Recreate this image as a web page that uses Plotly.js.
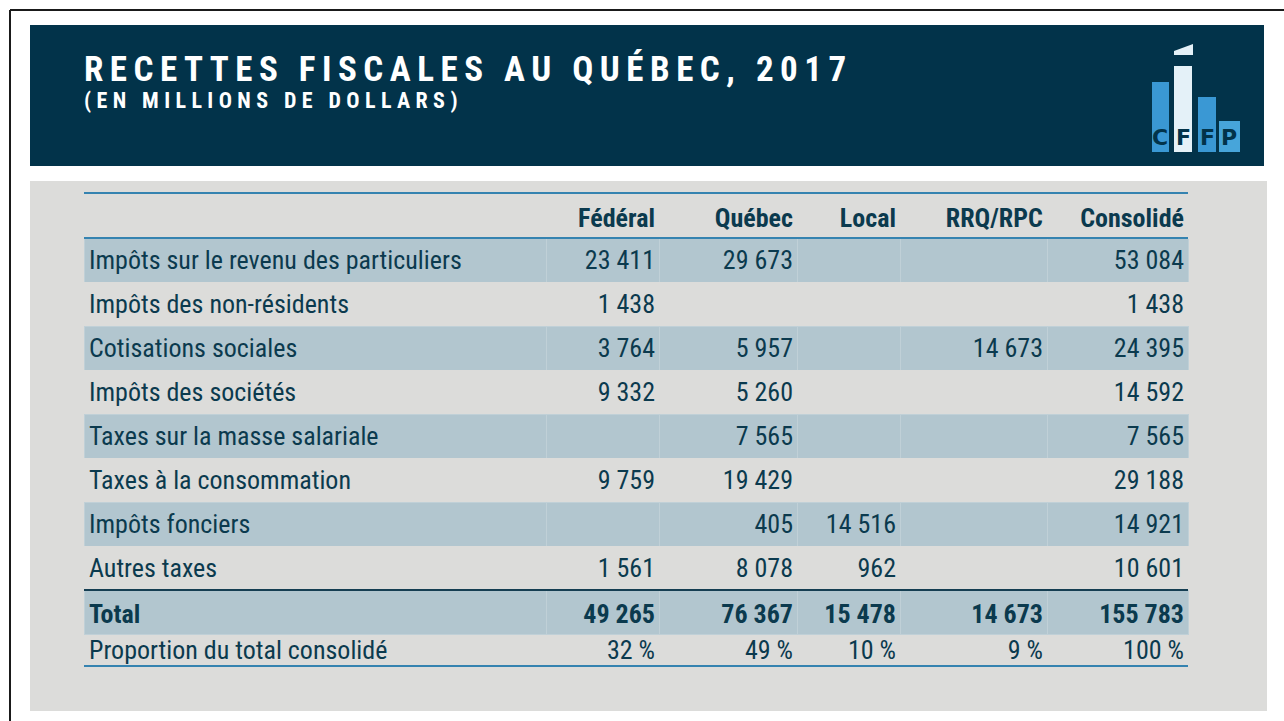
<!DOCTYPE html>
<html>
<head>
<meta charset="utf-8">
<script src="https://cdn.plot.ly/plotly-3.0.1.min.js"></script>
<style>
  html, body { margin: 0; padding: 0; background: #ffffff; }
  #chart { width: 1284px; height: 721px; }
  g.annotation[data-index="0"] text { letter-spacing: 6.5px; }
  g.annotation[data-index="1"] text { letter-spacing: 5.4px; }
</style>
</head>
<body>
<div id="chart"></div>
<script>
// ---------- DATA ----------
const titleText = "RECETTES FISCALES AU QUÉBEC, 2017";
const subtitleText = "(EN MILLIONS DE DOLLARS)";
const columnLabels = ["", "Fédéral", "Québec", "Local", "RRQ/RPC", "Consolidé"];
const categories = [
  "Impôts sur le revenu des particuliers",
  "Impôts des non-résidents",
  "Cotisations sociales",
  "Impôts des sociétés",
  "Taxes sur la masse salariale",
  "Taxes à la consommation",
  "Impôts fonciers",
  "Autres taxes"
];
const federal   = [23411, 1438, 3764, 9332, null, 9759, null, 1561];
const quebec    = [29673, null, 5957, 5260, 7565, 19429, 405, 8078];
const local     = [null, null, null, null, null, null, 14516, 962];
const rrqRpc    = [null, null, 14673, null, null, null, null, null];
const consolide = [53084, 1438, 24395, 14592, 7565, 29188, 14921, 10601];
const totalLabel = "Total";
const totals = [49265, 76367, 15478, 14673, 155783];
const shareLabel = "Proportion du total consolidé";
const shares = [32, 49, 10, 9, 100];

// ---------- STYLE ----------
const W = 1284, H = 721;
const navy = "#02334a";
const textNavy = "#0b3a4e";
const panelGrey = "#dcdcda";
const rowBlue = "#b2c6cf";
const rowBlueLine = "#c0d0d7";
const lineBlue = "#3583b0";
const lineDark = "#153e52";
const logoBlue = "#3a98d4";
const logoLight = "#e4f1f8";
const CLEAR = "rgba(0,0,0,0)";
const FONT = "'Roboto Condensed', 'Liberation Sans Narrow', 'Arial Narrow', 'DejaVu Sans Condensed', 'Liberation Sans', sans-serif";
const FS = 26;

// fill grid (cell edges) and text grid (shifted for cell padding)
const fillLeft = 84, fillRight = 1188, tableTop = 193;
const fillCols = [462, 113, 138, 103, 147, 141];
const textLeft = 81, textRight = 1192;
const textCols = [469, 113, 138, 103, 147, 141];
const headerH = 45, rowH = 44;
const textHeaderTop = 195, textHeaderH = 45;
const totalTextTop = 591, totalH = 42;
const shareTextTop = 631, shareH = 33;
const ruleBottom = 666;

const px = x => x / W;
const py = y => 1 - y / H;

function fmt(v) {
  if (v === null || v === undefined) return "";
  return String(v).replace(/\B(?=(\d{3})+(?!\d))/g, " ");
}

// build columns
const numCols = [federal, quebec, local, rrqRpc, consolide];
const nRows = categories.length + 1; // body rows + total row band
const bodyCols = [categories].concat(numCols.map(col => col.map(fmt)));
const rowFill = [], rowLine = [];
for (let i = 0; i < nRows; i++) {
  const blue = (i % 2 === 0);
  rowFill.push(blue ? rowBlue : panelGrey);
  rowLine.push(blue ? rowBlueLine : panelGrey);
}
const bandCols = columnLabels.map(() => rowFill.map(() => ""));
const aligns = ["left", "right", "right", "right", "right", "right"];
const mainBottom = tableTop + headerH + nRows * rowH;

// row bands of the table
const fillTable = {
  type: "table",
  domain: { x: [px(fillLeft), px(fillRight)], y: [py(mainBottom + 4), py(tableTop)] },
  columnwidth: fillCols,
  header: {
    values: columnLabels.map(() => ""),
    height: headerH,
    fill: { color: panelGrey },
    line: { color: panelGrey, width: 1 },
    font: { family: FONT, size: FS, color: textNavy }
  },
  cells: {
    values: bandCols,
    height: rowH,
    fill: { color: columnLabels.map(() => rowFill) },
    line: { color: columnLabels.map(() => rowLine), width: 1 },
    font: { family: FONT, size: FS, color: textNavy }
  }
};

// header + body text
const bodyBottom = textHeaderTop + textHeaderH + categories.length * rowH;
const textTable = {
  type: "table",
  domain: { x: [px(textLeft), px(textRight)], y: [py(bodyBottom + 6), py(textHeaderTop)] },
  columnwidth: textCols,
  header: {
    values: columnLabels.map(s => s ? "<b>" + s + "</b>" : ""),
    align: aligns,
    height: textHeaderH,
    fill: { color: CLEAR },
    line: { color: CLEAR, width: 0 },
    font: { family: FONT, size: FS, color: textNavy }
  },
  cells: {
    values: bodyCols,
    align: aligns,
    height: rowH,
    fill: { color: CLEAR },
    line: { color: CLEAR, width: 0 },
    font: { family: FONT, size: FS, color: textNavy }
  }
};

// total row text
const totalTable = {
  type: "table",
  domain: { x: [px(textLeft), px(textRight)], y: [py(totalTextTop + totalH + 2), py(totalTextTop)] },
  columnwidth: textCols,
  header: {
    values: ["<b>" + totalLabel + "</b>"].concat(totals.map(v => "<b>" + fmt(v) + "</b>")),
    align: aligns,
    height: totalH,
    fill: { color: CLEAR },
    line: { color: CLEAR, width: 0 },
    font: { family: FONT, size: FS, color: textNavy }
  },
  cells: { values: [] }
};

// share row text
const shareTable = {
  type: "table",
  domain: { x: [px(textLeft), px(textRight)], y: [py(shareTextTop + shareH + 2), py(shareTextTop)] },
  columnwidth: textCols,
  header: {
    values: [shareLabel].concat(shares.map(s => s + " %")),
    align: aligns,
    height: shareH,
    fill: { color: CLEAR },
    line: { color: CLEAR, width: 0 },
    font: { family: FONT, size: FS, color: textNavy }
  },
  cells: { values: [] }
};

// decorative shapes
const shapes = [
  { type: "line", xref: "paper", yref: "paper", x0: px(10), x1: px(W), y0: py(10), y1: py(10), line: { color: "#1a1a1a", width: 2 } },
  { type: "line", xref: "paper", yref: "paper", x0: px(10), x1: px(10), y0: py(10), y1: py(H), line: { color: "#1a1a1a", width: 2 } },
  { type: "rect", xref: "paper", yref: "paper", x0: px(30), x1: px(1264), y0: py(166), y1: py(25), fillcolor: navy, line: { width: 0 }, layer: "below" },
  { type: "rect", xref: "paper", yref: "paper", x0: px(30), x1: px(1267), y0: py(711), y1: py(181), fillcolor: panelGrey, line: { width: 0 }, layer: "below" },
  { type: "rect", xref: "paper", yref: "paper", x0: px(1152), x1: px(1169), y0: py(152), y1: py(82), fillcolor: logoBlue, line: { width: 0 } },
  { type: "rect", xref: "paper", yref: "paper", x0: px(1174), x1: px(1192), y0: py(152), y1: py(66), fillcolor: logoLight, line: { width: 0 } },
  { type: "path", xref: "paper", yref: "paper",
    path: "M" + px(1174) + "," + py(51) + " L" + px(1193) + "," + py(44) + " L" + px(1193) + "," + py(55) + " L" + px(1174) + "," + py(55) + " Z",
    fillcolor: logoLight, line: { width: 0 } },
  { type: "rect", xref: "paper", yref: "paper", x0: px(1198), x1: px(1216), y0: py(152), y1: py(97), fillcolor: logoBlue, line: { width: 0 } },
  { type: "rect", xref: "paper", yref: "paper", x0: px(1219), x1: px(1240), y0: py(152), y1: py(121), fillcolor: "#47a5da", line: { width: 0 } }
];
const ruleY = [
  [tableTop, lineBlue],
  [tableTop + headerH, lineBlue],
  [tableTop + headerH + categories.length * rowH, lineDark],
  [ruleBottom, lineBlue]
];
ruleY.forEach(r => shapes.push({ type: "line", xref: "paper", yref: "paper", x0: px(fillLeft), x1: px(fillRight), y0: py(r[0]), y1: py(r[0]), line: { color: r[1], width: 2 } }));

const logoLetters = ["C", "F", "F", "P"];
const logoX = [1160, 1183, 1207, 1229];
const annotations = [
  { xref: "paper", yref: "paper", x: px(82), y: py(70), xanchor: "left", yanchor: "middle", align: "left", showarrow: false,
    text: "<b>" + titleText + "</b>", font: { family: FONT, size: 35, color: "#ffffff" } },
  { xref: "paper", yref: "paper", x: px(82), y: py(101), xanchor: "left", yanchor: "middle", align: "left", showarrow: false,
    text: "<b>" + subtitleText + "</b>", font: { family: FONT, size: 22, color: "#ffffff" } }
];
logoLetters.forEach((l, i) => {
  annotations.push({ xref: "paper", yref: "paper", x: px(logoX[i]), y: py(137), xanchor: "center", yanchor: "middle", showarrow: false,
    text: "<b>" + l + "</b>", font: { family: "'DejaVu Sans', sans-serif", size: 22, color: navy } });
});

const layout = {
  width: W, height: H,
  margin: { l: 0, r: 0, t: 0, b: 0 },
  paper_bgcolor: "#ffffff",
  plot_bgcolor: "#ffffff",
  showlegend: false,
  shapes: shapes,
  annotations: annotations
};

Plotly.newPlot("chart", [fillTable, textTable, totalTable, shareTable], layout, { displayModeBar: false, staticPlot: true });
</script>
</body>
</html>
